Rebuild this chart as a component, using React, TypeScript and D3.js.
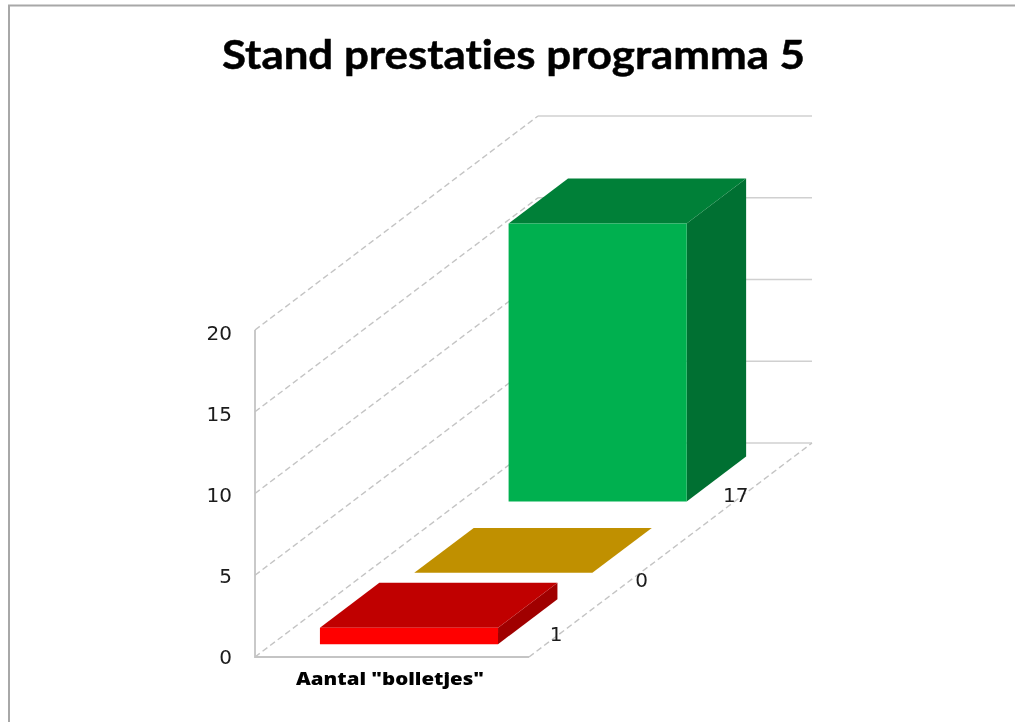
import React from "react";
import * as d3 from "d3";

const title = "Stand prestaties programma 5";
const categoryLabel = 'Aantal "bolletjes"';
const seriesNames = ["Rood", "Oranje", "Groen"];
const seriesValues = [1, 0, 17];
const valueTicks = [0, 5, 10, 15, 20];
const frontColors = ["#ff0000", "#c09000", "#00b050"];
const topColors = ["#c00000", "#c09000", "#008038"];
const sideColors = ["#a00000", "#c09000", "#007030"];

const width = 1015;
const height = 722;

// Oblique projection of the 3D plot box
const origin = { x: 255, y: 657 };
const xScale = d3.scaleLinear().domain([0, 1]).range([0, 274]);
const yScale = d3.scaleLinear().domain([0, 20]).range([0, -327]);
const depthX = d3.scaleLinear().domain([0, 3]).range([0, 283]);
const depthY = d3.scaleLinear().domain([0, 3]).range([0, -214]);
const tickBaseline = d3.scaleLinear().domain([0, 20]).range([664, 340]);

const project = (x: number, v: number, d: number): [number, number] => [
  origin.x + xScale(x) + depthX(d),
  origin.y + yScale(v) + depthY(d),
];
const poly = (pts: [number, number][]) => d3.line()(pts)! + "Z";

const barX0 = 0.175;
const barX1 = 0.825;
const barD0 = 0.18;
const barD1 = 0.81;

const labelShiftX = [-20, -29, -29];
const labelShiftY = [20, 37, 23];

const GRID = "#d0d0d0";
const DASH = "#c4c4c4";

export default function App() {
  const labelFont = "'DejaVu Sans', sans-serif";
  return (
    <svg
      width={width}
      height={height}
      style={{ position: "absolute", left: 0, top: 0, background: "#fff" }}
    >
      <defs>
        <filter id="soft" x="-5%" y="-5%" width="110%" height="110%">
          <feGaussianBlur stdDeviation="0.5" />
        </filter>
      </defs>
      <g filter="url(#soft)">
        {/* frame */}
        <path d={`M9,${height}V5.5H${width}`} fill="none" stroke="#a8a8a8" strokeWidth={2} />
        <text
          x={513.5}
          y={69}
          textAnchor="middle"
          fontFamily="Lato, sans-serif"
          fontWeight={700}
          fontSize={41}
          textLength={583}
          lengthAdjust="spacingAndGlyphs"
          stroke="#000"
          strokeWidth={0.5}
          fill="#000"
          style={{ fontVariantLigatures: "none" }}
        >
          {title}
        </text>

        {/* back wall grid */}
        {valueTicks.map((t) => {
          const [x0, y0] = project(0, t, 3);
          const [x1] = project(1, t, 3);
          return <line key={t} x1={x0} y1={y0} x2={x1} y2={y0} stroke={GRID} strokeWidth={1.4} />;
        })}
        {/* side wall dashed grid */}
        {valueTicks.map((t) => {
          const [x0, y0] = project(0, t, 0);
          const [x1, y1] = project(0, t, 3);
          return (
            <line key={t} x1={x0} y1={y0} x2={x1} y2={y1} stroke={DASH} strokeWidth={1.4} strokeDasharray="6 3.5" />
          );
        })}
        {/* floor right edge */}
        <line
          x1={project(1, 0, 0)[0]}
          y1={project(1, 0, 0)[1]}
          x2={project(1, 0, 3)[0]}
          y2={project(1, 0, 3)[1]}
          stroke={DASH}
          strokeWidth={1.4}
          strokeDasharray="6 3.5"
        />
        {/* axes */}
        <path
          d={d3.line()([project(0, 20, 0), project(0, 0, 0), project(1, 0, 0)])!}
          fill="none"
          stroke="#c4c4c4"
          strokeWidth={1.8}
        />

        {/* bars */}
        {seriesValues.map((v, i) => {
          const d0 = i + barD0;
          const d1 = i + barD1;
          return (
            <g key={seriesNames[i]}>
              <path
                d={poly([project(barX1, 0, d0), project(barX1, 0, d1), project(barX1, v, d1), project(barX1, v, d0)])}
                fill={sideColors[i]}
              />
              <path
                d={poly([project(barX0, v, d0), project(barX1, v, d0), project(barX1, v, d1), project(barX0, v, d1)])}
                fill={topColors[i]}
              />
              <path
                d={poly([project(barX0, 0, d0), project(barX1, 0, d0), project(barX1, v, d0), project(barX0, v, d0)])}
                fill={frontColors[i]}
              />
            </g>
          );
        })}

        {/* value axis labels */}
        {valueTicks.map((t) => (
          <text
            key={t}
            x={232}
            y={tickBaseline(t)}
            textAnchor="end"
            fontFamily={labelFont}
            fontSize={20}
            fill="#1a1a1a"
          >
            {t}
          </text>
        ))}

        {/* data labels */}
        {seriesValues.map((v, i) => {
          const [x, y] = project(1, 0, i + 0.5);
          return (
            <text
              key={seriesNames[i]}
              x={x + labelShiftX[i]}
              y={y + labelShiftY[i]}
              fontFamily={labelFont}
              fontSize={20}
              textAnchor="middle"
              fill="#1a1a1a"
            >
              {v}
            </text>
          );
        })}

        <text
          x={390}
          y={685}
          textAnchor="middle"
          fontFamily="'Open Sans', sans-serif"
          fontWeight={800}
          fontSize={18}
          textLength={188}
          lengthAdjust="spacingAndGlyphs"
          fill="#000"
        >
          {categoryLabel}
        </text>
      </g>
    </svg>
  );
}
